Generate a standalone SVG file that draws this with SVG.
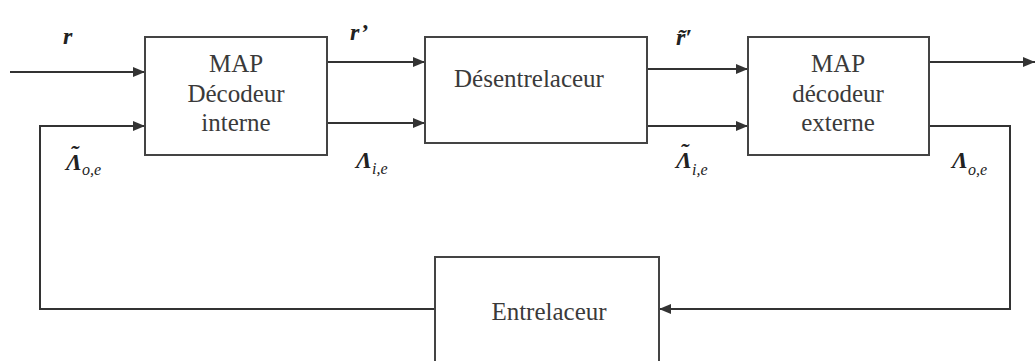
<svg xmlns="http://www.w3.org/2000/svg" width="1035" height="361" viewBox="0 0 1035 361">
<style>
.box{fill:#fff;stroke:#444;stroke-width:2}
.lbl{font-family:'Liberation Serif','Times New Roman',serif;font-size:25px;fill:#3a3a3a;text-anchor:middle}
.conn{fill:none;stroke:#333;stroke-width:2}
.m{font-family:'Liberation Serif','Times New Roman',serif;font-style:italic;font-weight:bold;fill:#222;font-size:24px}
.sub{font-size:16px;font-weight:normal}
</style>
<defs>
<marker id="ah" markerWidth="12" markerHeight="10" refX="12" refY="5" orient="auto" markerUnits="userSpaceOnUse">
<path d="M0,0 L12,5 L0,10 Z" fill="#333"/>
</marker>
</defs>
<rect width="1035" height="361" fill="#fff"/>
<g id="connectors">
<path class="conn" d="M10,72 H145" marker-end="url(#ah)"/>
<path class="conn" d="M435,309 H40 V126 H145" marker-end="url(#ah)"/>
<path class="conn" d="M327,62 H425" marker-end="url(#ah)"/>
<path class="conn" d="M327,123 H425" marker-end="url(#ah)"/>
<path class="conn" d="M647,69 H748" marker-end="url(#ah)"/>
<path class="conn" d="M647,126 H748" marker-end="url(#ah)"/>
<path class="conn" d="M929,62 H1035" marker-end="url(#ah)"/>
<path class="conn" d="M929,126 H1010 V309 H659" marker-end="url(#ah)"/>
</g>
<g id="map-interne">
<rect class="box" x="145" y="37" width="182" height="118"/>
<text class="lbl" x="236" y="72">MAP</text>
<text class="lbl" x="236" y="102">Décodeur</text>
<text class="lbl" x="236" y="131">interne</text>
</g>
<g id="desentrelaceur">
<rect class="box" x="425" y="37" width="222" height="106"/>
<text class="lbl" x="529" y="87" font-size="25.5">Désentrelaceur</text>
</g>
<g id="map-externe">
<rect class="box" x="748" y="37" width="181" height="118"/>
<text class="lbl" x="838" y="72">MAP</text>
<text class="lbl" x="838" y="102">décodeur</text>
<text class="lbl" x="838" y="131">externe</text>
</g>
<g id="entrelaceur">
<rect class="box" x="435" y="257" width="224" height="120"/>
<text class="lbl" x="549" y="320">Entrelaceur</text>
</g>
<g id="labels">
<text class="m" x="63" y="44">r</text>
<text class="m" x="66" y="170">Λ<tspan dx="-12" dy="-9">˜</tspan><tspan class="sub" dx="4" dy="14">o,e</tspan></text>
<text class="m" x="350" y="40">r’</text>
<text class="m" x="356" y="168">Λ<tspan class="sub" dy="6">i,e</tspan></text>
<text class="m" x="676" y="45">r̃′</text>
<text class="m" x="676" y="168">Λ<tspan dx="-12" dy="-9">˜</tspan><tspan class="sub" dx="4" dy="16">i,e</tspan></text>
<text class="m" x="952" y="168">Λ<tspan class="sub" dy="7">o,e</tspan></text>
</g>
</svg>
